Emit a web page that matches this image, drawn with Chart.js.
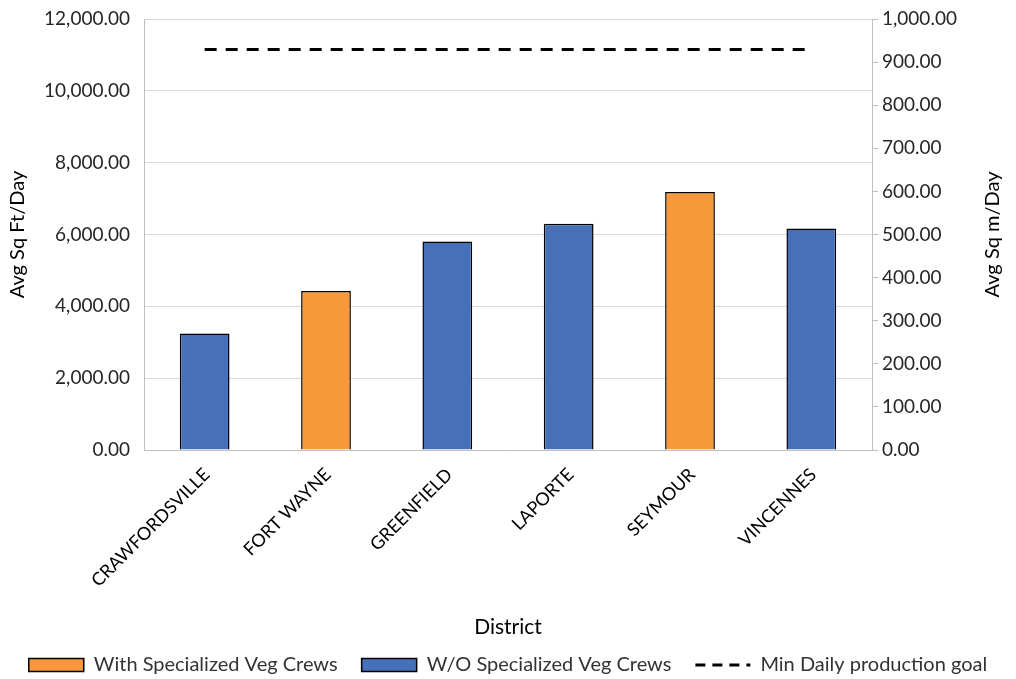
<!DOCTYPE html>
<html>
<head>
<meta charset="utf-8">
<script src="https://cdn.jsdelivr.net/npm/chart.js@4/dist/chart.umd.min.js"></script>
<style>
  html, body { margin: 0; padding: 0; background: #fff; }
  #wrap { width: 1016px; height: 679px; }
</style>
</head>
<body>
<div id="wrap"><canvas id="myChart" width="1016" height="679"></canvas></div>
<script>
// districts and values
const districts = ['CRAWFORDSVILLE', 'FORT WAYNE', 'GREENFIELD', 'LAPORTE', 'SEYMOUR', 'VINCENNES'];
const withCrews = [null, 4425, null, null, 7186, null];
const withoutCrews = [3242, null, 5806, 6297, null, 6167];
const goalSqM = [929, 929, 929, 929, 929, 929];

const fmt = v => Number(v).toLocaleString('en-US', { minimumFractionDigits: 2, maximumFractionDigits: 2 });

const ctx = document.getElementById('myChart');
Chart.defaults.font.family = 'Lato, "Open Sans", sans-serif';
Chart.defaults.color = '#262626';

// right axis title reads bottom-to-top like the left one
const rightTitle = {
  id: 'rightTitle',
  afterDraw(chart) {
    const c = chart.ctx, a = chart.chartArea;
    c.save();
    c.translate(993, (a.top + a.bottom) / 2);
    c.rotate(-Math.PI / 2);
    c.font = '20px Lato, "Open Sans", sans-serif';
    c.fillStyle = '#000';
    c.textAlign = 'center';
    c.textBaseline = 'middle';
    c.fillText('Avg Sq m/Day', 0, 0);
    c.restore();
  }
};

new Chart(ctx, {
  type: 'bar',
  data: {
    labels: districts,
    datasets: [
      {
        label: 'With Specialized Veg Crews',
        data: withCrews,
        backgroundColor: '#F7993A',
        borderColor: '#000',
        borderWidth: 1.5,
        yAxisID: 'y',
        order: 2
      },
      {
        label: 'W/O Specialized Veg Crews',
        data: withoutCrews,
        backgroundColor: '#4671B8',
        borderColor: '#000',
        borderWidth: 1.5,
        yAxisID: 'y',
        order: 2
      },
      {
        type: 'line',
        label: 'Min Daily production goal',
        data: goalSqM,
        borderColor: '#000',
        backgroundColor: '#000',
        borderWidth: 3,
        borderDash: [12, 9],
        pointRadius: 0,
        fill: false,
        yAxisID: 'y2',
        order: 1
      }
    ]
  },
  plugins: [rightTitle],
  options: {
    responsive: false,
    animation: false,
    datasets: { bar: { categoryPercentage: 1, barPercentage: 0.41, grouped: false } },
    layout: { padding: { top: 19, left: 0, right: 0, bottom: -6 } },
    plugins: {
      tooltip: { enabled: false },
      legend: {
        position: 'bottom',
        labels: {
          color: '#333',
          font: { size: 20 },
          usePointStyle: true,
          pointStyleWidth: 55,
          boxHeight: 13,
          padding: 24,
          generateLabels: chart => {
            const items = Chart.defaults.plugins.legend.labels.generateLabels(chart);
            items.sort((a, b) => a.datasetIndex - b.datasetIndex);
            items.forEach(it => {
              const ds = chart.data.datasets[it.datasetIndex];
              if (ds.type === 'line') {
                it.pointStyle = 'line';
                it.lineDash = [10, 7];
                it.lineWidth = 3;
                it.strokeStyle = '#000';
              } else {
                it.pointStyle = 'rect';
              }
            });
            return items;
          }
        }
      }
    },
    scales: {
      x: {
        grid: { display: false, drawTicks: false },
        border: { color: '#bfbfbf' },
        ticks: { minRotation: 45, maxRotation: 45, font: { size: 18 }, color: '#000', padding: 14, labelOffset: 2 },
        title: { display: true, text: 'District', color: '#000', font: { size: 21 }, padding: { top: 4, bottom: -9 } },
        afterFit: s => { s.height = 679 - 450 - s.chart.legend.height + 6; }
      },
      y: {
        position: 'left',
        min: 0, max: 12000,
        ticks: { stepSize: 2000, callback: v => fmt(v), font: { size: 19 }, padding: 14 },
        grid: { color: '#d9d9d9', drawTicks: false },
        border: { color: '#bfbfbf' },
        title: { display: true, text: 'Avg Sq Ft/Day', color: '#000', font: { size: 20 }, padding: { top: 6, bottom: 4 } },
        afterFit: s => { s.width = 144; s.paddingTop = 0; }
      },
      y2: {
        position: 'right',
        min: 0, max: 1000,
        ticks: { stepSize: 100, callback: v => fmt(v), font: { size: 19 }, padding: 4 },
        grid: { drawOnChartArea: false, color: '#bfbfbf', tickLength: 6 },
        border: { color: '#bfbfbf' },
        afterFit: s => { s.width = 144; s.paddingTop = 0; }
      }
    }
  }
});
</script>
</body>
</html>
